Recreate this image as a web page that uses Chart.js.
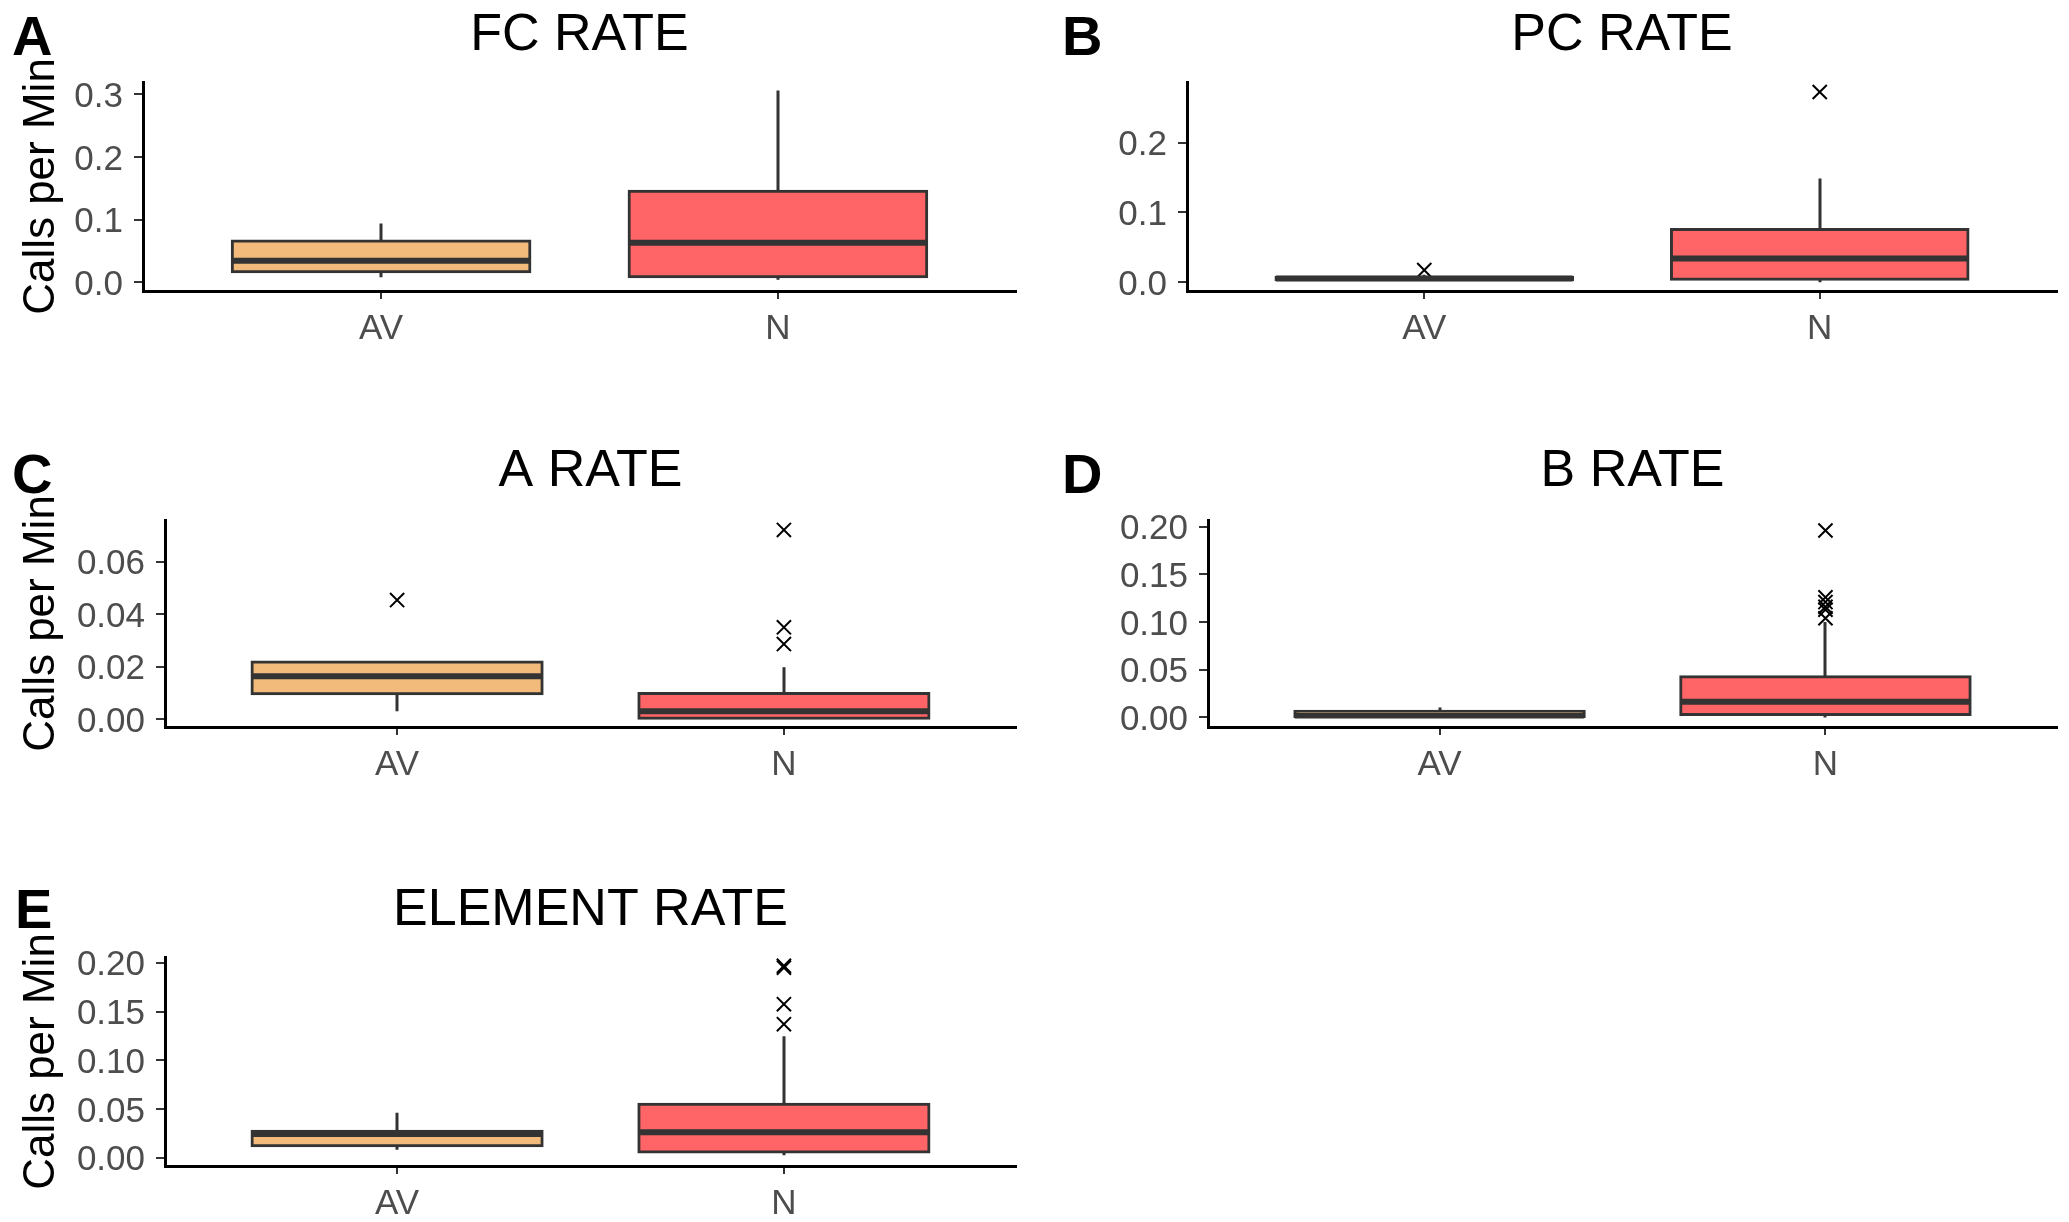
<!DOCTYPE html>
<html>
<head>
<meta charset="utf-8">
<script src="https://cdn.jsdelivr.net/npm/chart.js@4.4.1/dist/chart.umd.min.js"></script>
<style>
  body { margin: 0; background: #fff; width: 2069px; height: 1222px; position: relative; overflow: hidden; }
  canvas { position: absolute; }
  .tag { position: absolute; font-family: "Liberation Sans", Arial, sans-serif; font-weight: bold; font-size: 56px; line-height: 1; color: #000; }
</style>
</head>
<body>
<div class="tag" style="left:12px;top:8px">A</div>
<div class="tag" style="left:1062px;top:8px">B</div>
<div class="tag" style="left:12px;top:446px">C</div>
<div class="tag" style="left:1062px;top:446px">D</div>
<div class="tag" style="left:15px;top:881px">E</div>
<canvas id="fc"></canvas>
<canvas id="pc"></canvas>
<canvas id="arate"></canvas>
<canvas id="brate"></canvas>
<canvas id="element"></canvas>
<script>
const groups = ['AV', 'N'];
const fills = ['#F2BB7B', '#FF6466'];

// box stats per group: [lower whisker, Q1, median, Q3, upper whisker]
const fcAV = [0.008, 0.017, 0.0345, 0.066, 0.094];
const fcN = [0.004, 0.009, 0.063, 0.1455, 0.306];
const fcOutAV = [];
const fcOutN = [];

const pcAV = [0.002, 0.0038, 0.0055, 0.0072, 0.011];
const pcN = [0.0, 0.0043, 0.034, 0.0757, 0.1486];
const pcOutAV = [0.0175];
const pcOutN = [0.2724];

const aAV = [0.003, 0.0097, 0.0163, 0.0218, 0.0218];
const aN = [0.0, 0.0, 0.003, 0.0098, 0.0198];
const aOutAV = [0.0454];
const aOutN = [0.0721, 0.035, 0.0286];

const bAV = [0.0, 0.0, 0.002, 0.0066, 0.0105];
const bN = [0.0, 0.003, 0.0165, 0.0426, 0.100];
const bOutAV = [];
const bOutN = [0.196, 0.126, 0.121, 0.116, 0.113, 0.104];

const elAV = [0.0082, 0.0123, 0.0243, 0.0272, 0.0462];
const elN = [0.0024, 0.0058, 0.026, 0.0548, 0.1246];
const elOutAV = [];
const elOutN = [0.197, 0.195, 0.1575, 0.137];

// y axis limits and tick labels
const fcRange = [-0.0138, 0.3197];
const fcTicks = ['0.0', '0.1', '0.2', '0.3'];
const pcRange = [-0.0124, 0.2867];
const pcTicks = ['0.0', '0.1', '0.2'];
const aRange = [-0.003, 0.0759];
const aTicks = ['0.00', '0.02', '0.04', '0.06'];
const bRange = [-0.010, 0.207];
const bTicks = ['0.00', '0.05', '0.10', '0.15', '0.20'];
const elRange = [-0.0086, 0.206];
const elTicks = ['0.00', '0.05', '0.10', '0.15', '0.20'];

const FONT = '"Liberation Sans", Arial, sans-serif';

// whiskers behind the boxes, medians on top
const boxPlugin = (stats) => ({
  id: 'boxes',
  beforeDatasetsDraw(chart) {
    const { ctx, scales: { x, y } } = chart;
    ctx.save();
    ctx.strokeStyle = '#333333';
    ctx.lineWidth = 3;
    stats.forEach((s, i) => {
      const px = Math.round(x.getPixelForValue(i + 1));
      ctx.beginPath();
      ctx.moveTo(px, y.getPixelForValue(s[0]));
      ctx.lineTo(px, y.getPixelForValue(s[1]));
      ctx.moveTo(px, y.getPixelForValue(s[3]));
      ctx.lineTo(px, y.getPixelForValue(s[4]));
      ctx.stroke();
    });
    ctx.restore();
  },
  afterDatasetsDraw(chart) {
    const { ctx, scales: { y } } = chart;
    const bars = chart.getDatasetMeta(0).data;
    ctx.save();
    ctx.strokeStyle = '#333333';
    ctx.lineWidth = 6;
    stats.forEach((s, i) => {
      const el = bars[i];
      const py = y.getPixelForValue(s[2]);
      ctx.beginPath();
      ctx.moveTo(el.x - el.width / 2, py);
      ctx.lineTo(el.x + el.width / 2, py);
      ctx.stroke();
    });
    ctx.restore();
  }
});

const makePanel = (id, title, stats, outliers, range, tickLabels, yTitle, box) => {
  const canvas = document.getElementById(id);
  canvas.width = box.width;
  canvas.height = box.height;
  canvas.style.left = box.left + 'px';
  canvas.style.top = box.top + 'px';
  const [aL, aT, aR, aB] = box.area;
  const titleTop = box.titleY - box.top - 26;

  return new Chart(canvas, {
    type: 'bar',
    data: {
      datasets: [{
        data: stats.map((s, i) => ({ x: i + 1, y: [s[1], s[3]] })),
        backgroundColor: fills,
        borderColor: '#333333',
        borderWidth: 3,
        borderSkipped: false,
        inflateAmount: 1.5,
        barPercentage: 0.75,
        categoryPercentage: 1,
        order: 2
      }, {
        type: 'line',
        showLine: false,
        data: outliers.flatMap((vals, i) => vals.map(v => ({ x: i + 1, y: v }))),
        pointStyle: 'crossRot',
        pointRadius: 10,
        pointBorderColor: '#000',
        pointBorderWidth: 2,
        order: 1
      }]
    },
    options: {
      responsive: false,
      animation: false,
      events: [],
      layout: { padding: { left: 0, top: 0, bottom: 0, right: box.left + box.width - aR } },
      scales: {
        x: {
          type: 'linear',
          min: 0.4,
          max: 2.6,
          offset: false,
          afterBuildTicks: s => { s.ticks = groups.map((g, i) => ({ value: i + 1 })); },
          afterFit: s => { s.height = box.top + box.height - aB; },
          ticks: {
            callback: v => groups[v - 1],
            color: '#4D4D4D',
            padding: 13,
            font: { family: FONT, size: 35, lineHeight: 1 }
          },
          grid: { offset: false, drawOnChartArea: false, drawTicks: true, tickLength: 8, color: '#333333', lineWidth: 2 },
          border: { display: true, color: '#000', width: 3 }
        },
        y: {
          type: 'linear',
          min: range[0],
          max: range[1],
          afterBuildTicks: s => { s.ticks = tickLabels.map(t => ({ value: parseFloat(t) })); },
          afterFit: s => { s.width = aL - box.left; },
          ticks: {
            callback: (v, i) => tickLabels[i],
            color: '#4D4D4D',
            padding: 11,
            labelOffset: 3,
            font: { family: FONT, size: 35, lineHeight: 1 }
          },
          grid: { offset: false, drawOnChartArea: false, drawTicks: true, tickLength: 9, color: '#333333', lineWidth: 2 },
          border: { display: true, color: '#000', width: 3 },
          title: {
            display: yTitle,
            text: 'Calls per Min',
            color: '#000',
            padding: { top: 20, bottom: 0 },
            font: { family: FONT, size: 44, lineHeight: 1 }
          }
        }
      },
      plugins: {
        legend: { display: false },
        tooltip: { enabled: false },
        title: {
          display: true,
          text: title,
          color: '#000',
          fullSize: false,
          padding: { top: titleTop, bottom: aT - box.top - titleTop - 52 },
          font: { family: FONT, size: 52, weight: 'normal', lineHeight: 1 }
        }
      }
    },
    plugins: [boxPlugin(stats)]
  });
};

makePanel('fc', 'FC RATE', [fcAV, fcN], [fcOutAV, fcOutN], fcRange, fcTicks, true,
  { left: 0, top: 0, width: 1034, height: 350, area: [143, 82, 1016, 291], titleY: 36 });
makePanel('pc', 'PC RATE', [pcAV, pcN], [pcOutAV, pcOutN], pcRange, pcTicks, false,
  { left: 1034, top: 0, width: 1035, height: 350, area: [1187, 82, 2060, 291], titleY: 36 });
makePanel('arate', 'A RATE', [aAV, aN], [aOutAV, aOutN], aRange, aTicks, true,
  { left: 0, top: 420, width: 1034, height: 370, area: [165, 520, 1016, 727], titleY: 472 });
makePanel('brate', 'B RATE', [bAV, bN], [bOutAV, bOutN], bRange, bTicks, false,
  { left: 1034, top: 420, width: 1035, height: 370, area: [1208, 520, 2060, 727], titleY: 472 });
makePanel('element', 'ELEMENT RATE', [elAV, elN], [elOutAV, elOutN], elRange, elTicks, true,
  { left: 0, top: 860, width: 1034, height: 362, area: [165, 957, 1016, 1166], titleY: 911 });
</script>
</body>
</html>
